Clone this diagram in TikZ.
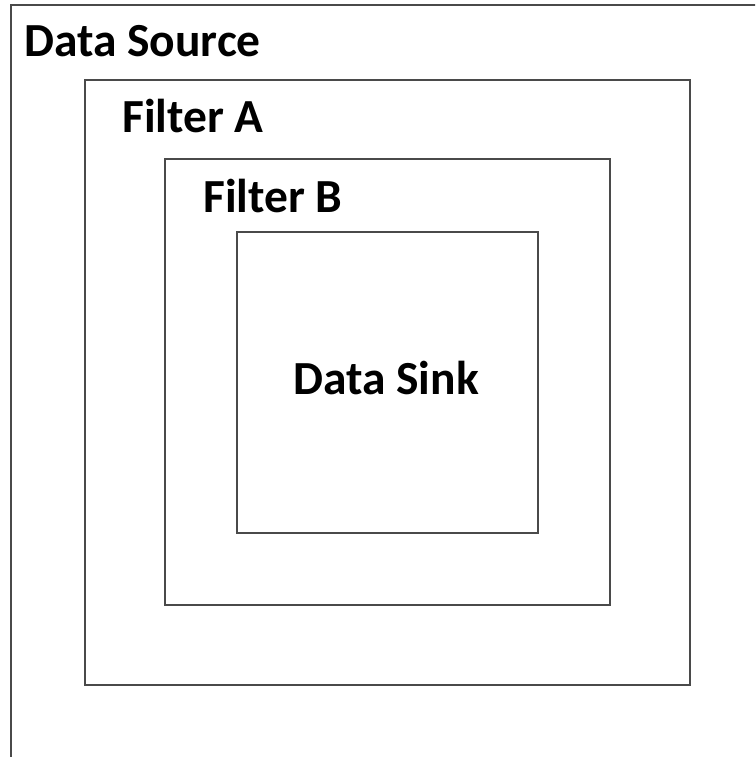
\documentclass[tikz,border=0pt]{standalone}
\usepackage{fontspec}
\setmainfont{Carlito}
\begin{document}
\begin{tikzpicture}[x=1pt,y=-1pt,
  layer/.style={draw=framegray, line width=2.2pt, inner sep=0pt, anchor=north west},
  title/.style={font=\bfseries\fontsize{47.5}{52}\selectfont, anchor=base west, inner sep=0pt}]
  \definecolor{framegray}{HTML}{4A4A4A}
  \useasboundingbox[fill=white] (0,0) rectangle (755,757);
  \clip (0,0) rectangle (755,757);
  % nested layers, outermost runs past the page edge
  \node[layer, minimum width=800pt, minimum height=800pt] (source) at (10,4) {};
  \node[layer, minimum width=605pt, minimum height=605pt] (filtera) at (84,79) {};
  \node[layer, minimum width=445pt, minimum height=446pt] (filterb) at (164,158) {};
  \node[layer, minimum width=301pt, minimum height=301pt] (sink) at (236,231) {};
  % layer titles
  \node[title] (sourcelbl) at (24,57) {Data Source};
  \node[title] (filteralbl) at (122,132) {Filter A};
  \node[title] (filterblbl) at (203,212) {Filter B};
  \node[title] (sinklbl) at (293,394) {Data Sink};
\end{tikzpicture}
\end{document}
